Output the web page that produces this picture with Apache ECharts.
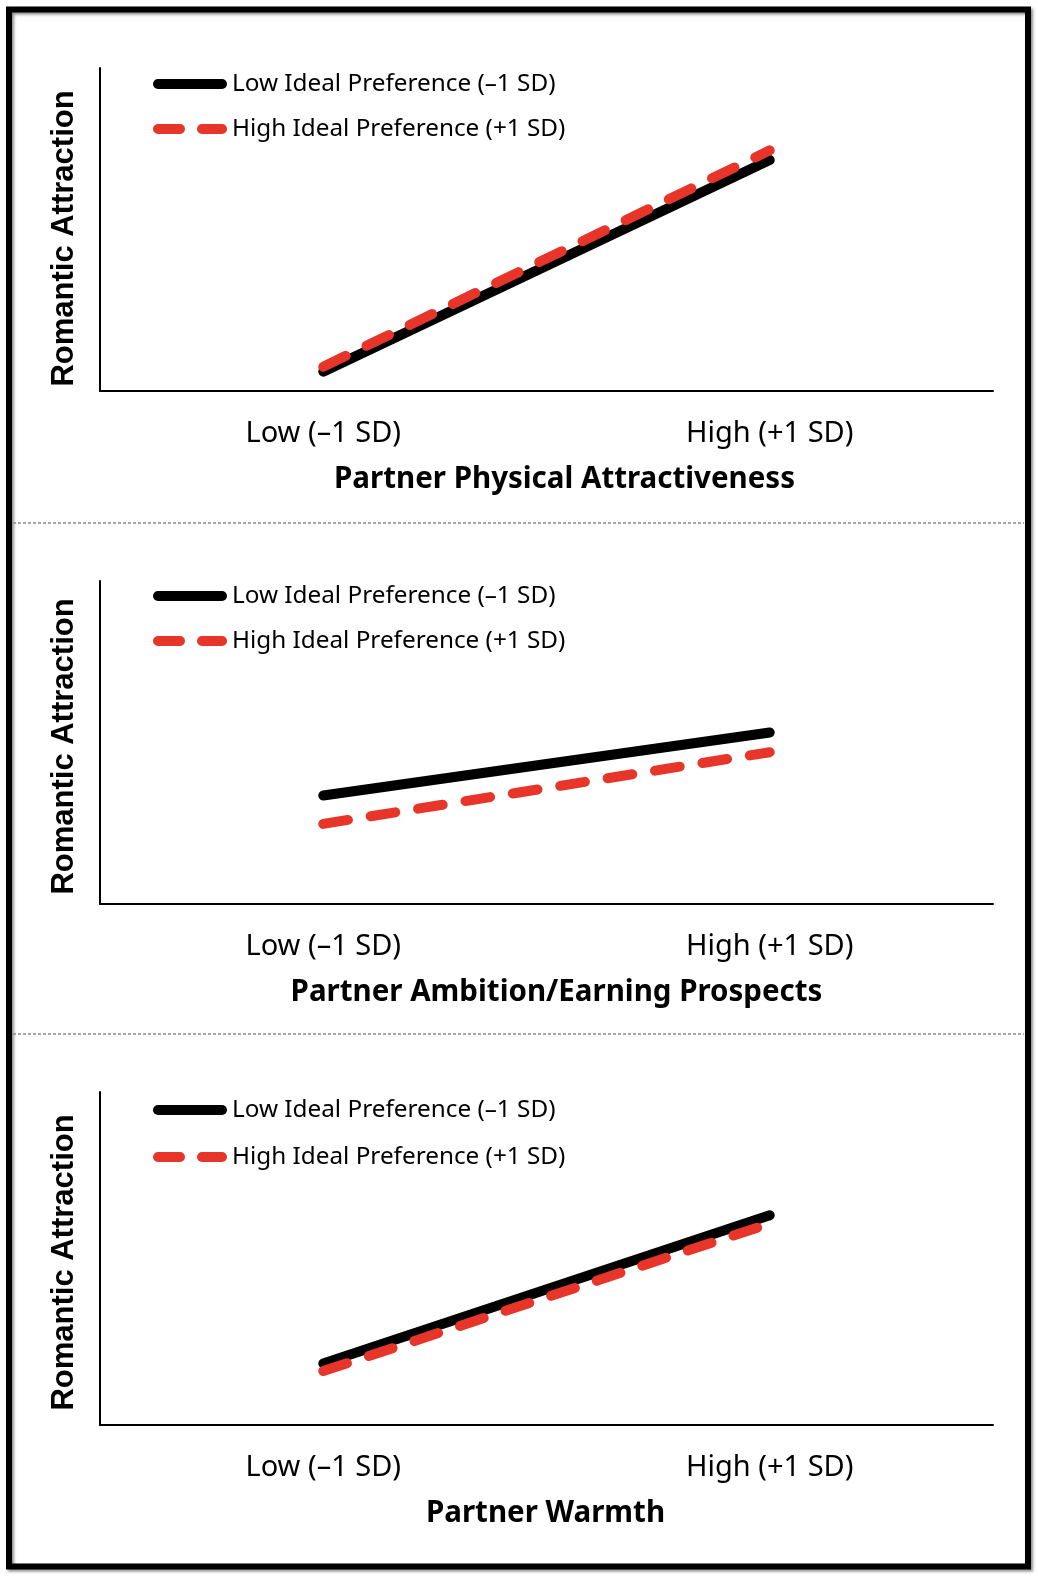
<!DOCTYPE html>
<html>
<head>
<meta charset="utf-8">
<title>Romantic Attraction</title>
<script src="https://cdn.jsdelivr.net/npm/echarts@6/dist/echarts.min.js"></script>
<style>
html, body { margin: 0; padding: 0; background: #fff; }
#main { width: 1038px; height: 1580px; }
</style>
</head>
<body>
<div id="main"></div>
<script>
// x categories (2 levels of partner trait)
var categories = ['Low (–1 SD)', 'High (+1 SD)'];
var seriesNames = ['Low Ideal Preference (–1 SD)', 'High Ideal Preference (+1 SD)'];
var panelTitles = ['Partner Physical Attractiveness', 'Partner Ambition/Earning Prospects', 'Partner Warmth'];
var yTitle = 'Romantic Attraction';

// 读图得到的值 (0-10 scale)
var lowPrefPhysical = [0.6, 7.15];
var highPrefPhysical = [0.75, 7.45];
var lowPrefAmbition = [3.36, 5.31];
var highPrefAmbition = [2.48, 4.7];
var lowPrefWarmth = [1.85, 6.3];
var highPrefWarmth = [1.62, 6.05];

var panelData = [
	[lowPrefPhysical, highPrefPhysical],
	[lowPrefAmbition, highPrefAmbition],
	[lowPrefWarmth, highPrefWarmth]
];

var gridTop = [68, 581, 1092];
var gridHeight = [323, 323, 333];
var legendTop = [66, 578, 1092];
var legendGap = [19, 19, 21];
var namePad = [[0, 0, 0, 36], [0, 0, 0, 20], [0, 2, 0, 0]];
var yNamePad = [[0, 18, 0, 0], [0, 8, 0, 0], [0, 8, 0, 0]];
var red = '#e8352a';
var font = 'Noto Sans';

// legend icons: one thick rounded bar, and two rounded dashes
var solidIcon = 'path://M5,0 L69,0 A5,5 0 0 1 69,10 L5,10 A5,5 0 0 1 5,0 Z';
var dashIcon = 'path://M5,0 L27,0 A5,5 0 0 1 27,10 L5,10 A5,5 0 0 1 5,0 Z M49,0 L69,0 A5,5 0 0 1 69,10 L49,10 A5,5 0 0 1 49,0 Z';

var chart = echarts.init(document.getElementById('main'));

var grids = [], xAxes = [], yAxes = [], legends = [], series = [];
for (var i = 0; i < 3; i++) {
	grids.push({ left: 100, top: gridTop[i], width: 893, height: gridHeight[i] });
	xAxes.push({
		type: 'category',
		gridIndex: i,
		data: categories,
		boundaryGap: true,
		axisLine: { lineStyle: { color: '#000', width: 2 } },
		axisTick: { show: false },
		axisLabel: { color: '#000', fontSize: 29, fontFamily: font, margin: 28 },
		name: panelTitles[i],
		nameLocation: 'middle',
		nameGap: 74,
		nameTextStyle: { color: '#000', fontSize: 29.5, fontWeight: 'bold', fontFamily: font, padding: namePad[i] }
	});
	yAxes.push({
		type: 'value',
		gridIndex: i,
		min: 0,
		max: 10,
		axisLine: { show: true, lineStyle: { color: '#000', width: 2 } },
		axisTick: { show: false },
		axisLabel: { show: false },
		splitLine: { show: false },
		name: yTitle,
		nameLocation: 'middle',
		nameGap: 20,
		nameTextStyle: { color: '#000', fontSize: 31, fontWeight: 'bold', fontFamily: 'Liberation Sans', padding: yNamePad[i] }
	});
	legends.push({
		orient: 'vertical',
		left: 148,
		top: legendTop[i],
		itemWidth: 74,
		itemHeight: 10,
		itemGap: legendGap[i],
		selectedMode: false,
		itemStyle: { borderWidth: 0 },
		data: [
			{ name: seriesNames[0], icon: solidIcon, itemStyle: { color: '#000', borderWidth: 0 } },
			{ name: seriesNames[1], icon: dashIcon, itemStyle: { color: red, borderWidth: 0 } }
		],
		textStyle: { color: '#000', fontSize: 24.3, lineHeight: 26, fontFamily: font }
	});
	series.push({
		name: seriesNames[0],
		type: 'line',
		xAxisIndex: i,
		yAxisIndex: i,
		data: panelData[i][0],
		symbol: 'none',
		silent: true,
		lineStyle: { color: '#000', width: 10, cap: 'round' },
		itemStyle: { color: '#000' }
	});
	series.push({
		name: seriesNames[1],
		type: 'line',
		xAxisIndex: i,
		yAxisIndex: i,
		data: panelData[i][1],
		symbol: 'none',
		silent: true,
		lineStyle: { color: red, width: 10, type: [25, 23], cap: 'round' },
		itemStyle: { color: red }
	});
}

chart.setOption({
	animation: false,
	backgroundColor: '#fff',
	grid: grids,
	xAxis: xAxes,
	yAxis: yAxes,
	legend: legends,
	series: series,
	graphic: [
		{
			type: 'rect',
			shape: { x: 9, y: 9.5, width: 1019, height: 1557 },
			style: { fill: 'none', stroke: '#000', lineWidth: 6, shadowColor: 'rgba(0,0,0,0.45)', shadowBlur: 3, shadowOffsetX: 2, shadowOffsetY: 2 },
			silent: true
		},
		{
			type: 'line',
			shape: { x1: 13, y1: 523, x2: 1024, y2: 523 },
			style: { stroke: '#8a8a8a', lineWidth: 1.5, lineDash: [3, 2] },
			silent: true
		},
		{
			type: 'line',
			shape: { x1: 13, y1: 1034, x2: 1024, y2: 1034 },
			style: { stroke: '#8a8a8a', lineWidth: 1.5, lineDash: [3, 2] },
			silent: true
		}
	]
});
</script>
</body>
</html>
